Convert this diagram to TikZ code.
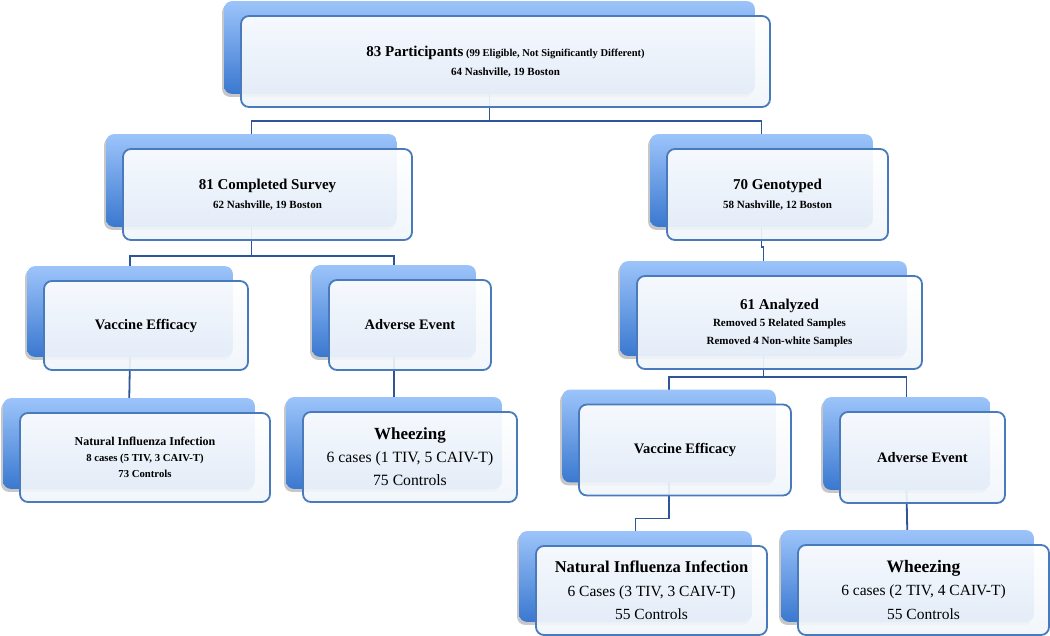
\documentclass[tikz,border=0pt]{standalone}
\usepackage{fontspec}
\setmainfont{Liberation Serif}
\usetikzlibrary{backgrounds}
\definecolor{backtop}{RGB}{156,196,250}
\definecolor{backbot}{RGB}{58,120,208}
\definecolor{cardline}{RGB}{72,122,188}
\definecolor{cardbot}{RGB}{240,245,251}
\definecolor{linkblue}{RGB}{44,86,152}

\begin{document}
\begin{tikzpicture}[x=1pt,y=-1pt,
card/.style={rectangle,rounded corners=8pt,draw=cardline,line width=1.8pt,
top color=white,bottom color=cardbot,fill opacity=0.92,text opacity=1,
inner sep=0pt,align=center},
backbox/.style={rounded corners=8pt,top color=backtop,bottom color=backbot},
dropbox/.style={rounded corners=8pt,fill=black,opacity=0.22},
link/.style={draw=linkblue,line width=1.8pt}]
\useasboundingbox (0,0) rectangle (1050,636);

\node[card,minimum width=529pt,minimum height=91pt,font=\fontsize{11}{19.5}\selectfont\bfseries] (P) at (505.5,61.5)
{{\fontsize{15}{17}\selectfont 83 Participants}{\fontsize{10.5}{12}\selectfont\ (99 Eligible, Not Significantly Different)}\\ 64 Nashville, 19 Boston};
\node[card,minimum width=289pt,minimum height=91pt,font=\fontsize{11}{19.5}\selectfont\bfseries] (S) at (267.5,194.5)
{{\fontsize{15}{17}\selectfont 81 Completed Survey}\\ 62 Nashville, 19 Boston};
\node[card,minimum width=221pt,minimum height=91pt,font=\fontsize{11}{19.5}\selectfont\bfseries] (G) at (777.5,194.5)
{{\fontsize{15}{17}\selectfont 70 Genotyped}\\ 58 Nashville, 12 Boston};
\node[card,minimum width=285pt,minimum height=93pt,font=\fontsize{11}{17.5}\selectfont\bfseries] (A) at (779.5,322.5)
{{\fontsize{15}{17}\selectfont 61 Analyzed}\\ Removed 5 Related Samples\\ Removed 4 Non-white Samples};

\node[card,minimum width=204pt,minimum height=89pt,font=\fontsize{14.5}{17}\selectfont\bfseries] (VE1) at (146,325.5) {Vaccine Efficacy};
\node[card,minimum width=162pt,minimum height=90pt,font=\fontsize{14.5}{17}\selectfont\bfseries] (AE1) at (410,325) {Adverse Event};
\node[card,minimum width=250pt,minimum height=89pt,font=\fontsize{10.7}{16}\selectfont\bfseries] (NI1) at (145,457.5)
{{\fontsize{12}{14}\selectfont Natural Influenza Infection}\\ 8 cases (5 TIV, 3 CAIV-T)\\ 73 Controls};
\node[card,minimum width=214pt,minimum height=90pt,font=\fontsize{15.7}{23}\selectfont] (W1) at (410,457)
{{\fontsize{17}{19}\selectfont\bfseries Wheezing}\\ 6 cases (1 TIV, 5 CAIV-T)\\ 75 Controls};

\node[card,minimum width=212pt,minimum height=91pt,font=\fontsize{14.5}{17}\selectfont\bfseries] (VE2) at (685,450) {Vaccine Efficacy};
\node[card,minimum width=165pt,minimum height=91pt,font=\fontsize{14.5}{17}\selectfont\bfseries] (AE2) at (922.5,457.5) {Adverse Event};
\node[card,minimum width=231pt,minimum height=89pt,font=\fontsize{15.5}{23.5}\selectfont] (NI2) at (651.5,590.5)
{{\fontsize{16.5}{18}\selectfont\bfseries Natural Influenza Infection}\\ 6 Cases (3 TIV, 3 CAIV-T)\\ 55 Controls};
\node[card,minimum width=251pt,minimum height=90pt,font=\fontsize{15.5}{23.5}\selectfont] (W2) at (923.5,590)
{{\fontsize{17.5}{19}\selectfont\bfseries Wheezing}\\ 6 cases (2 TIV, 4 CAIV-T)\\ 55 Controls};

\begin{scope}[on background layer]
% tree links, through the centres of the back boxes
\draw[link] ([xshift=-16pt,yshift=14pt]P.south) -- ([xshift=-16pt]P.south) -- ++(0,13) -| ([xshift=-16pt]S.north);
\draw[link] ([xshift=-16pt]P.south) -- ++(0,13) -| ([xshift=-16pt]G.north);
\draw[link] ([xshift=-16pt,yshift=14pt]S.south) -- ([xshift=-16pt]S.south) -- ++(0,15) -| ([xshift=-16pt]VE1.north);
\draw[link] ([xshift=-16pt]S.south) -- ++(0,15) -| ([xshift=-16pt]AE1.north);
\draw[link] ([xshift=-16pt,yshift=14pt]G.south) -- ([xshift=-16pt]G.south) -- ++(0,6) -| ([xshift=-16pt]A.north);
\draw[link] ([xshift=-16pt,yshift=14pt]A.south) -- ([xshift=-16pt]A.south) -- ++(0,7) -| ([xshift=-16pt]VE2.north);
\draw[link] ([xshift=-16pt]A.south) -- ++(0,7) -| ([xshift=-16pt]AE2.north);
\draw[link] ([xshift=-16pt,yshift=14pt]VE1.south) -- ([xshift=-16pt]NI1.north);
\draw[link] ([xshift=-16pt,yshift=14pt]AE1.south) -- ([xshift=-16pt]W1.north);
\draw[link] ([xshift=-16pt,yshift=14pt]VE2.south) -- ([xshift=-16pt]VE2.south) -- ++(0,22) -| ([xshift=-16pt]NI2.north);
\draw[link] ([xshift=-16pt,yshift=14pt]AE2.south) -- ([xshift=-16pt]W2.north);
% back boxes
\foreach \n in {P,S,G,A,VE1,AE1,NI1,W1,VE2,AE2,NI2,W2}{
  \path[dropbox] ([xshift=-18pt,yshift=11pt]\n.north west) rectangle ([xshift=-18pt,yshift=11pt]\n.south east);
  \path[backbox] ([xshift=-16pt,yshift=14pt]\n.north west) rectangle ([xshift=-16pt,yshift=14pt]\n.south east);
}
\end{scope}
\end{tikzpicture}
\end{document}
